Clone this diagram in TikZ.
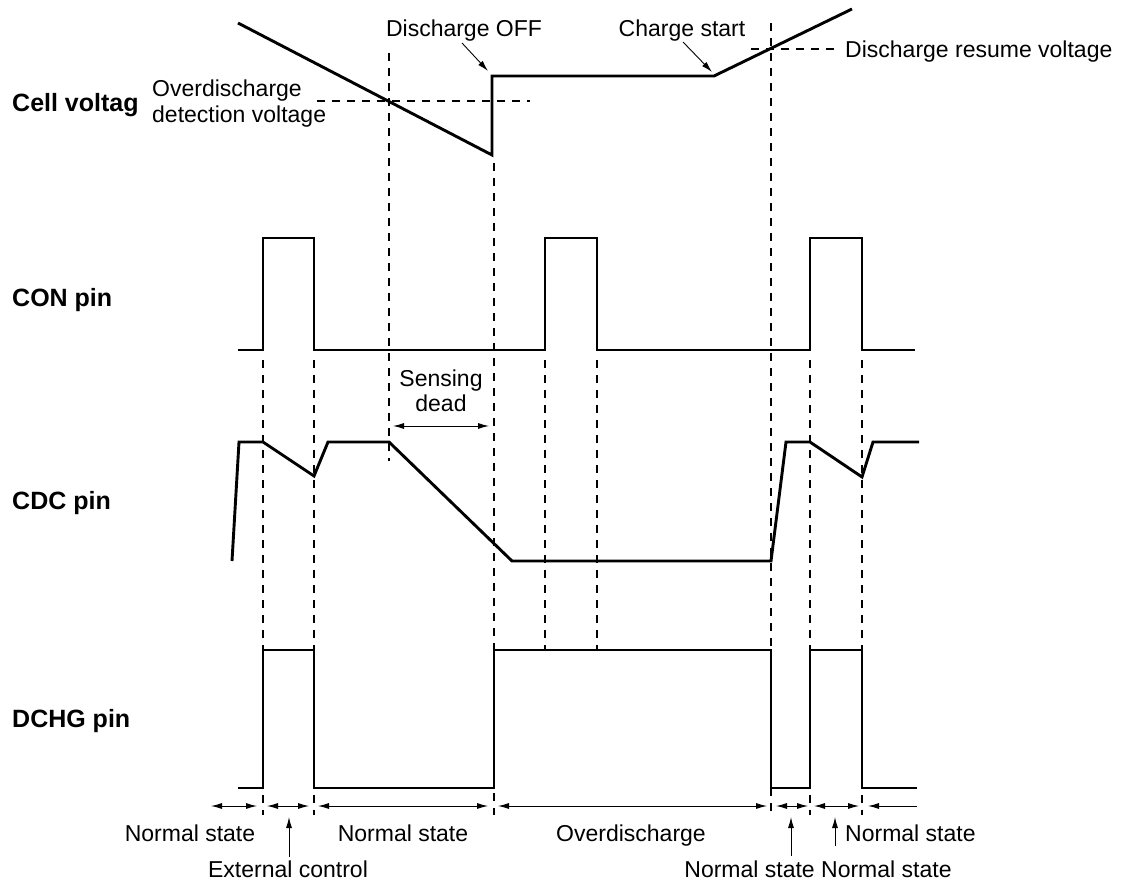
\documentclass[tikz,border=0pt]{standalone}
\usepackage{fontspec}
\setmainfont{Liberation Sans}
\usetikzlibrary{arrows.meta}
\begin{document}
\begin{tikzpicture}[x=1pt,y=-1pt,
  wave/.style={line width=2.9pt, line join=miter},
  guide/.style={line width=1.2pt, dash pattern=on 8pt off 7pt},
  dimline/.style={line width=0.9pt, {Latex[length=11pt,width=6pt]}-{Latex[length=11pt,width=6pt]}},
  leftdim/.style={line width=0.9pt, {Latex[length=11pt,width=6pt]}-},
  ptr/.style={line width=0.9pt, -{Latex[length=11pt,width=6pt]}},
  txt/.style={font=\fontsize{23}{26}\selectfont, inner sep=0pt},
  pinlbl/.style={font=\bfseries\fontsize{25}{29}\selectfont, inner sep=0pt, anchor=base west}]
\useasboundingbox (0,0) rectangle (1123,886);

% ---- pin labels
\node[pinlbl] (lcell) at (12,111) {Cell voltag};
\node[pinlbl] (lcon)  at (12,306) {CON pin};
\node[pinlbl] (lcdc)  at (12,509) {CDC pin};
\node[pinlbl] (ldchg) at (12,727) {DCHG pin};

% ---- guide lines (dashed)
\draw[guide] (263,360) -- (263,815);
\draw[guide] (314,360) -- (314,815);
\draw[guide] (389,53) -- (389,461);
\draw[guide] (494,163) -- (494,815);
\draw[guide] (545,360) -- (545,650);
\draw[guide] (597,360) -- (597,650);
\draw[guide] (771,23) -- (771,815);
\draw[guide] (810,360) -- (810,815);
\draw[guide] (862,360) -- (862,815);
\draw[guide] (317,101) -- (530,101);
\draw[guide] (751,49) -- (838,49);

% ---- cell voltage
\coordinate (vmin) at (492,155);
\coordinate (voff) at (492,76);
\coordinate (vchg) at (714,76);
\draw[wave] (238,23) -- (vmin) -- (voff) -- (vchg) -- (852,9);

% ---- CON pin
\draw[wave] (238,350) -- (263,350) -- (263,238) -- (314,238) -- (314,350)
  -- (545,350) -- (545,238) -- (597,238) -- (597,350)
  -- (810,350) -- (810,238) -- (862,238) -- (862,350) -- (915,350);

% ---- CDC pin
\draw[wave] (232,561) -- (239,442) -- (263,442) -- (314,476) -- (328,442)
  -- (389,442) -- (512,561) -- (771,561) -- (786,442) -- (810,442)
  -- (862,477) -- (873,442) -- (919,442);

% ---- DCHG pin
\draw[wave] (238,788) -- (263,788) -- (263,650) -- (314,650) -- (314,788)
  -- (494,788) -- (494,650) -- (771,650) -- (771,788) -- (810,788)
  -- (810,650) -- (862,650) -- (862,788) -- (917,788);

% ---- annotations top
\node[txt, anchor=base] (toff) at (464,36) {Discharge OFF};
\coordinate (offtip) at (488,71);
\draw[ptr] (462,43) -- (offtip);
\node[txt, anchor=base] (tchg) at (682,36) {Charge start};
\coordinate (chgtip) at (712,72);
\draw[ptr] (683,42) -- (chgtip);
\node[txt, anchor=base west] (tres) at (845,57) {Discharge resume voltage};
\node[txt, anchor=west, align=left] (tdet) at (152,104)
  {Overdischarge\\detection voltage};

% ---- sensing dead
\node[txt, anchor=base] (tsens) at (441,386) {Sensing};
\node[txt, anchor=base] (tdead) at (441,411) {dead};
\coordinate (sd1) at (393,426);
\coordinate (sd2) at (489,426);
\draw[dimline] (sd1) -- (sd2);

% ---- state dimension arrows
\coordinate (a0) at (211,806);
\coordinate (a1) at (257,806);
\coordinate (b0) at (267,806);
\coordinate (b1) at (309,806);
\coordinate (c0) at (318,806);
\coordinate (c1) at (488,806);
\coordinate (d0) at (498,806);
\coordinate (d1) at (767,806);
\coordinate (e0) at (776,806);
\coordinate (e1) at (808,806);
\coordinate (f0) at (814,806);
\coordinate (f1) at (859,806);
\coordinate (g0) at (868,806);
\coordinate (g1) at (917,806);
\draw[dimline] (a0) -- (a1);
\draw[dimline] (b0) -- (b1);
\draw[dimline] (c0) -- (c1);
\draw[dimline] (d0) -- (d1);
\draw[dimline] (e0) -- (e1);
\draw[dimline] (f0) -- (f1);
\draw[leftdim] (g0) -- (g1);

\node[txt, anchor=base] (s1) at (190,841) {Normal state};
\node[txt, anchor=base] (s2) at (403,841) {Normal state};
\node[txt, anchor=base] (s3) at (631,841) {Overdischarge};
\node[txt, anchor=base west] (s4) at (845,841) {Normal state};
\node[txt, anchor=base] (s5) at (288,877) {External control};
\node[txt, anchor=base] (s6) at (818,877) {Normal state Normal state};

\coordinate (u1a) at (289,857); \coordinate (u1b) at (289,817);
\coordinate (u2a) at (791,856); \coordinate (u2b) at (791,817);
\coordinate (u3a) at (835,846); \coordinate (u3b) at (835,817);
\draw[ptr] (u1a) -- (u1b);
\draw[ptr] (u2a) -- (u2b);
\draw[ptr] (u3a) -- (u3b);
\end{tikzpicture}
\end{document}
